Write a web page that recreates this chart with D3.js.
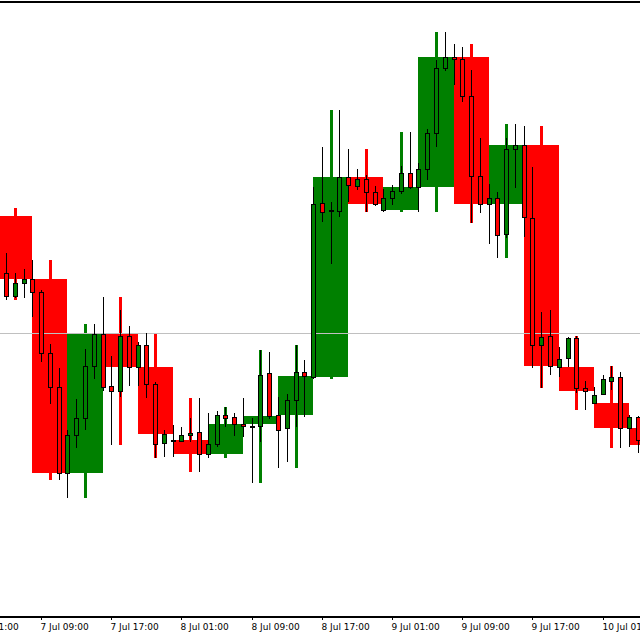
<!DOCTYPE html>
<html>
<head>
<meta charset="utf-8">
<script src="https://cdn.jsdelivr.net/npm/d3@7"></script>
<style>
  html, body { margin: 0; padding: 0; background: #fff; }
  svg { display: block; }
  .axis text { font-family: "DejaVu Sans", sans-serif; font-size: 9px; fill: #000; }
</style>
</head>
<body>
<svg id="chart" width="640" height="640"></svg>
<script>
// hourly bars, starting 7 Jul 04:00 (the H4 bars are rolled up from these)
const firstHour = '2020-07-07T04:00:00Z';

const hourOpen = [
  1.1167, 1.1110, 1.1087, 1.1100, 1.1104, 1.1091, 1.1030, 1.0996, 1.0910, 1.0948, 1.0965, 1.1017,
  1.1049, 1.0997, 1.0992, 1.1047, 1.1016, 1.1038, 1.0999, 1.0940, 1.0943, 1.0942, 1.0948, 1.0951,
  1.0929, 1.0939, 1.0968, 1.0966, 1.0959, 1.0957, 1.0957, 1.1010, 1.0968, 1.0955, 1.0983, 1.1011,
  1.1006, 1.1180, 1.1173, 1.1172, 1.1206, 1.1197, 1.1204, 1.1191, 1.1173, 1.1185, 1.1192, 1.1210,
  1.1196, 1.1214, 1.1250, 1.1315, 1.1326, 1.1324, 1.1287, 1.1207, 1.1179, 1.1185, 1.1149, 1.1234,
  1.1238, 1.1165, 1.1038, 1.1047, 1.1016, 1.1025, 1.1045, 1.0995, 1.0980, 1.0989, 1.1002, 1.1006,
  1.0955, 1.0966, 1.0943, 1.0939
];
const hourHigh = [
  1.1175, 1.1130, 1.1110, 1.1114, 1.1123, 1.1093, 1.1039, 1.1015, 1.0953, 1.0984, 1.1034, 1.1059,
  1.1086, 1.1027, 1.1073, 1.1057, 1.1041, 1.1050, 1.1001, 1.0953, 1.0958, 1.0956, 1.0965, 1.0985,
  1.0970, 1.0972, 1.0976, 1.0970, 1.0985, 1.0965, 1.1033, 1.1031, 1.0986, 1.0989, 1.1038, 1.1023,
  1.1196, 1.1236, 1.1181, 1.1273, 1.1234, 1.1214, 1.1208, 1.1197, 1.1194, 1.1198, 1.1217, 1.1251,
  1.1220, 1.1254, 1.1323, 1.1351, 1.1339, 1.1336, 1.1313, 1.1245, 1.1199, 1.1191, 1.1245, 1.1259,
  1.1257, 1.1216, 1.1071, 1.1073, 1.1036, 1.1046, 1.1047, 1.1002, 1.0996, 1.1008, 1.1017, 1.1011,
  1.0968, 1.0967, 1.0953, 1.0948
];
const hourLow = [
  1.1108, 1.1083, 1.1085, 1.1085, 1.1066, 1.1021, 1.0979, 1.0903, 1.0885, 1.0935, 1.0953, 1.1004,
  1.0992, 1.0938, 1.0986, 1.0997, 1.0997, 1.0985, 1.0925, 1.0926, 1.0926, 1.0941, 1.0941, 1.0911,
  1.0925, 1.0936, 1.0956, 1.0947, 1.0946, 1.0900, 1.0941, 1.0964, 1.0915, 1.0921, 1.0956, 1.0966,
  1.1004, 1.1161, 1.1119, 1.1166, 1.1181, 1.1193, 1.1171, 1.1177, 1.1171, 1.1178, 1.1189, 1.1194,
  1.1171, 1.1203, 1.1236, 1.1312, 1.1298, 1.1281, 1.1160, 1.1170, 1.1139, 1.1125, 1.1145, 1.1195,
  1.1146, 1.1015, 1.0995, 1.1008, 1.1006, 1.1016, 1.0990, 1.0973, 1.0979, 1.0988, 1.0993, 1.0935,
  1.0936, 1.0930, 1.0933, 1.0932
];
const hourClose = [
  1.1110, 1.1087, 1.1100, 1.1104, 1.1091, 1.1030, 1.0996, 1.0910, 1.0948, 1.0965, 1.1017, 1.1049,
  1.0996, 1.0992, 1.1047, 1.1016, 1.1038, 1.0999, 1.0939, 1.0949, 1.0942, 1.0948, 1.0950, 1.0929,
  1.0939, 1.0968, 1.0965, 1.0959, 1.0957, 1.0957, 1.1008, 1.0967, 1.0953, 1.0983, 1.1011, 1.1007,
  1.1179, 1.1171, 1.1172, 1.1206, 1.1198, 1.1204, 1.1191, 1.1179, 1.1185, 1.1192, 1.1210, 1.1196,
  1.1214, 1.1250, 1.1315, 1.1326, 1.1324, 1.1287, 1.1207, 1.1179, 1.1185, 1.1148, 1.1234, 1.1238,
  1.1166, 1.1038, 1.1046, 1.1017, 1.1024, 1.1045, 1.0995, 1.0992, 1.0988, 1.1004, 1.1006, 1.0955,
  1.0966, 1.0943, 1.0939, 1.0938
];

const tickTimes = [
  '2020-07-07T01:00:00Z', '2020-07-07T09:00:00Z', '2020-07-07T17:00:00Z',
  '2020-07-08T01:00:00Z', '2020-07-08T09:00:00Z', '2020-07-08T17:00:00Z',
  '2020-07-09T01:00:00Z', '2020-07-09T09:00:00Z', '2020-07-09T17:00:00Z',
  '2020-07-10T01:00:00Z'
];

const levelPrice = 1.1050;

const WIDTH = 640;
const AXIS_Y = 617;
const BULL = '#008000';
const BEAR = '#ff0000';

const hours = hourOpen.map((o, i) => ({
  t: d3.utcHour.offset(new Date(firstHour), i),
  open: o,
  high: hourHigh[i],
  low: hourLow[i],
  close: hourClose[i]
}));

// roll four hourly bars into one H4 bar
const bars4h = d3.range(0, hours.length, 4).map(s => {
  const g = hours.slice(s, s + 4);
  return {
    t: g[0].t,
    open: g[0].open,
    close: g[g.length - 1].close,
    high: d3.max(g, d => d.high),
    low: d3.min(g, d => d.low)
  };
});

const x = d3.scaleUtc()
  .domain([new Date('2020-07-07T08:00:00Z'), new Date('2020-07-10T08:00:00Z')])
  .rangeRound([32.3, 664.1]);

const y = d3.scaleLinear()
  .domain([1.1383, 1.0766])
  .range([0, AXIS_Y]);

const py = v => Math.round(y(v));
const colorOf = d => d.close > d.open ? BULL : BEAR;

const svg = d3.select('#chart');

svg.append('defs').append('clipPath').attr('id', 'plot')
  .append('rect').attr('x', 0).attr('y', 3).attr('width', WIDTH).attr('height', AXIS_Y - 3);

const plot = svg.append('g').attr('clip-path', 'url(#plot)');

// H4 wicks
plot.append('g').selectAll('line')
  .data(bars4h)
  .join('line')
  .attr('x1', d => x(d3.utcHour.offset(d.t, 2)) + 0.5)
  .attr('x2', d => x(d3.utcHour.offset(d.t, 2)) + 0.5)
  .attr('y1', d => py(d.high))
  .attr('y2', d => py(d.low))
  .attr('stroke', colorOf)
  .attr('stroke-width', 3);

// H4 bodies
plot.append('g').selectAll('rect')
  .data(bars4h)
  .join('rect')
  .attr('x', d => x(d.t))
  .attr('width', d => x(d3.utcHour.offset(d.t, 4)) - x(d.t))
  .attr('y', d => py(Math.max(d.open, d.close)))
  .attr('height', d => Math.max(1, py(Math.min(d.open, d.close)) - py(Math.max(d.open, d.close))))
  .attr('fill', colorOf);

// horizontal level
plot.append('line')
  .attr('x1', 0).attr('x2', WIDTH)
  .attr('y1', py(levelPrice) + 0.5).attr('y2', py(levelPrice) + 0.5)
  .attr('stroke', '#c0c0c0')
  .attr('stroke-width', 1);

// hourly wicks
plot.append('g').selectAll('line')
  .data(hours)
  .join('line')
  .attr('x1', d => x(d.t) + 0.5)
  .attr('x2', d => x(d.t) + 0.5)
  .attr('y1', d => py(d.high))
  .attr('y2', d => py(d.low))
  .attr('stroke', '#000')
  .attr('stroke-width', 1);

// hourly bodies
plot.append('g').selectAll('rect')
  .data(hours)
  .join('rect')
  .attr('x', d => x(d.t) - 1.5)
  .attr('width', 4)
  .attr('y', d => py(Math.max(d.open, d.close)) + 0.5)
  .attr('height', d => Math.max(1, py(Math.min(d.open, d.close)) - py(Math.max(d.open, d.close))))
  .attr('fill', colorOf)
  .attr('stroke', '#000')
  .attr('stroke-width', 1);

// frame lines
svg.append('line')
  .attr('x1', 0).attr('x2', WIDTH).attr('y1', 2).attr('y2', 2)
  .attr('stroke', '#000').attr('stroke-width', 2);

svg.append('line')
  .attr('x1', 0).attr('x2', WIDTH).attr('y1', AXIS_Y).attr('y2', AXIS_Y)
  .attr('stroke', '#000').attr('stroke-width', 2);

// time axis
const axis = d3.axisBottom(x)
  .tickValues(tickTimes.map(s => new Date(s)))
  .tickFormat(d3.utcFormat('%-d %b %H:%M'))
  .tickSize(3)
  .tickSizeOuter(0);

const gAxis = svg.append('g')
  .attr('class', 'axis')
  .attr('transform', `translate(0,${AXIS_Y})`)
  .call(axis);

gAxis.select('.domain').remove();
gAxis.selectAll('.tick line').attr('stroke', '#000');
gAxis.selectAll('.tick text')
  .attr('text-anchor', 'start')
  .attr('x', -1)
  .attr('y', 13)
  .attr('dy', null);
</script>
</body>
</html>
